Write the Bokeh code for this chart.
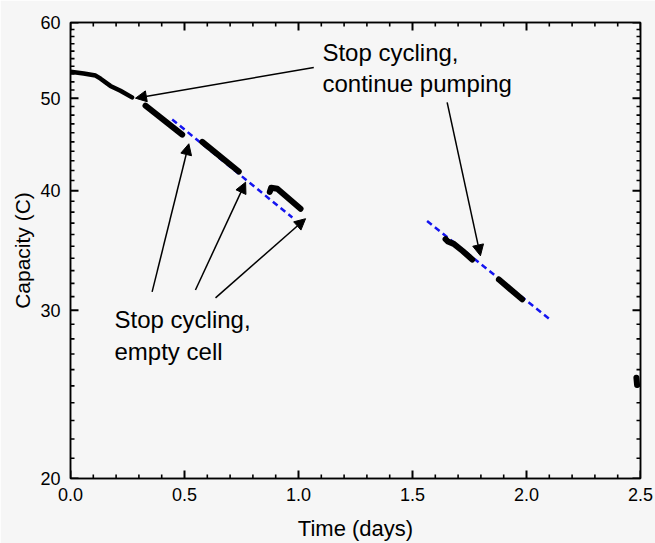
import numpy as np
from bokeh.plotting import figure
from bokeh.models import (FixedTicker, LinearAxis, LogAxis, Arrow, NormalHead,
                          ColumnDataSource, Range1d, CustomJSTickFormatter)
from bokeh.core.properties import value
from bokeh.embed import file_html
from bokeh.resources import INLINE

FONT = "Liberation Sans"
BG = "#f6f6f6"

# ---------------- data ----------------
x_start, x_end = 0.0, 2.5
y_start, y_end = 20, 60
x_ticks = [0.0, 0.5, 1.0, 1.5, 2.0, 2.5]
x_tick_labels = ["0.0", "0.5", "1.0", "1.5", "2.0", "2.5"]
x_minor = [0.1, 0.2, 0.3, 0.4, 0.6, 0.7, 0.8, 0.9, 1.1, 1.2, 1.3, 1.4,
           1.6, 1.7, 1.8, 1.9, 2.1, 2.2, 2.3, 2.4]
y_ticks = [20, 30, 40, 50, 60]
y_tick_labels = ["20", "30", "40", "50", "60"]
y_minor = [21, 22, 23, 24, 25, 26, 27, 28, 29,
           31, 32, 33, 34, 35, 36, 37, 38, 39,
           41, 42, 43, 44, 45, 46, 47, 48, 49,
           51, 52, 53, 54, 55, 56, 57, 58, 59]

# measured capacity (black segments)
seg_a_x = [0.0, 0.058, 0.110, 0.132, 0.175, 0.219, 0.270]
seg_a_y = [53.3, 53.07, 52.8, 52.4, 51.5, 50.9, 50.1]
seg_b_x = [0.329, 0.490]
seg_b_y = [49.1, 45.8]
seg_c_x = [0.578, 0.738]
seg_c_y = [45.0, 41.9]
seg_d_x = [0.874, 0.880, 0.907, 1.009]
seg_d_y = [39.9, 40.3, 40.2, 38.3]
seg_e_x = [1.645, 1.655, 1.681, 1.720, 1.762]
seg_e_y = [35.6, 35.4, 35.2, 34.6, 33.9]
seg_f_x = [1.879, 1.981]
seg_f_y = [32.3, 30.8]
seg_g_x = [2.482, 2.485]
seg_g_y = [25.5, 25.05]

# blue dashed fits
fit1_x = [0.446, 0.973]
fit1_y = [47.5, 37.5]
fit2_x = [1.564, 2.098]
fit2_y = [37.2, 29.4]

# arrows (start -> end, data coordinates)
arr_x0 = [1.067, 1.652, 0.358, 0.548, 0.636]
arr_y0 = [53.84, 49.5, 31.35, 31.5, 30.9]
arr_x1 = [0.285, 1.798, 0.519, 0.768, 1.031]
arr_y1 = [50.0, 34.2, 44.8, 40.84, 37.4]

# annotation texts
ann_x = [1.105, 0.193]
ann_y = [57.7, 30.27]
ann_text = ["Stop cycling,\ncontinue pumping", "Stop cycling,\nempty cell"]

# ---------------- layout ----------------
W, H = 655, 543
B_LEFT, B_RIGHT, B_TOP, B_BOTTOM = 70, 15, 22, 65
FRAME_W = W - B_LEFT - B_RIGHT
FRAME_H = H - B_TOP - B_BOTTOM
MAJOR_LEN, MINOR_LEN = 8, 4  # inward tick lengths in pixels

p = figure(width=W, height=H, x_range=Range1d(x_start, x_end),
           y_range=Range1d(y_start, y_end),
           y_axis_type="log", output_backend="svg", toolbar_location=None,
           min_border_left=B_LEFT, min_border_right=B_RIGHT, min_border_top=B_TOP,
           min_border_bottom=B_BOTTOM)
p.background_fill_color = BG
p.border_fill_color = BG
p.outline_line_color = "black"
p.outline_line_width = 1.5
p.xgrid.visible = False
p.ygrid.visible = False

xticker = FixedTicker(ticks=x_ticks, minor_ticks=x_minor)
yticker = FixedTicker(ticks=y_ticks, minor_ticks=y_minor)


def style_axis(ax):
    ax.axis_line_color = "black"
    ax.axis_line_width = 1.5
    ax.major_tick_in = 0
    ax.major_tick_out = 0
    ax.minor_tick_in = 0
    ax.minor_tick_out = 0
    ax.major_label_text_font = FONT
    ax.major_label_text_font_size = "18px"
    ax.major_label_text_color = "black"
    ax.axis_label_text_font = FONT
    ax.axis_label_text_font_style = "normal"
    ax.axis_label_text_color = "black"
    ax.axis_label_text_font_size = "21px"


xa = p.xaxis[0]
xa.ticker = xticker
xa.major_label_overrides = {t: l for t, l in zip(x_ticks, x_tick_labels)}
xa.axis_label = "Time (days)"
style_axis(xa)
xa.axis_label_text_font_size = "22px"
xa.axis_label_text_line_height = 1.0
xa.major_label_standoff = 9
xa.axis_label_standoff = 12

ya = p.yaxis[0]
ya.ticker = yticker
ya.major_label_overrides = {t: l for t, l in zip(y_ticks, y_tick_labels)}
ya.axis_label = "Capacity (C)"
style_axis(ya)
ya.major_label_standoff = 10
ya.axis_label_standoff = 3

empty = CustomJSTickFormatter(code="return ''")
top = LinearAxis(ticker=xticker, formatter=empty)
style_axis(top)
top.major_label_text_font_size = "1px"
top.major_label_standoff = 0
p.add_layout(top, "above")
right = LogAxis(ticker=yticker, formatter=empty)
style_axis(right)
right.major_label_text_font_size = "1px"
right.major_label_standoff = 0
p.add_layout(right, "right")


# inward tick marks on all four sides, drawn as one broken line per tick family
def tick_path(pos, a0, a1, vertical):
    xs, ys = [], []
    for t in pos:
        if vertical:
            xs += [t, t, np.nan]
            ys += [a0, a1, np.nan]
        else:
            xs += [a0, a1, np.nan]
            ys += [t, t, np.nan]
    return np.array(xs, dtype=float), np.array(ys, dtype=float)


dx_maj = MAJOR_LEN * (x_end - x_start) / FRAME_W
dx_min = MINOR_LEN * (x_end - x_start) / FRAME_W
fy_maj = (y_end / y_start) ** (MAJOR_LEN / FRAME_H)
fy_min = (y_end / y_start) ** (MINOR_LEN / FRAME_H)
tick_paths = []
for ticks, fy, lw in [(x_ticks, fy_maj, 2), (x_minor, fy_min, 1.6)]:
    tick_paths.append((tick_path(ticks, y_start, y_start * fy, True), lw))
    tick_paths.append((tick_path(ticks, y_end, y_end / fy, True), lw))
for ticks, dx, lw in [(y_ticks, dx_maj, 2), (y_minor, dx_min, 1.6)]:
    tick_paths.append((tick_path(ticks, x_start, x_start + dx, False), lw))
    tick_paths.append((tick_path(ticks, x_end, x_end - dx, False), lw))
for (tx, ty), lw in tick_paths:
    p.line(tx, ty, line_color="black", line_width=lw)

# blue dashed fit lines (drawn under the data)
for fx, fy in [(fit1_x, fit1_y), (fit2_x, fit2_y)]:
    p.line(fx, fy, line_color="#1414f0", line_width=2.5, line_dash="6 4")

# black data segments
p.line(seg_a_x, seg_a_y, line_color="black", line_width=4.5, line_cap="round", line_join="round")
for sx, sy in [(seg_b_x, seg_b_y), (seg_c_x, seg_c_y), (seg_d_x, seg_d_y),
               (seg_e_x, seg_e_y), (seg_f_x, seg_f_y), (seg_g_x, seg_g_y)]:
    p.line(sx, sy, line_color="black", line_width=6, line_cap="round", line_join="round")

# arrows
src = ColumnDataSource(dict(x0=arr_x0, y0=arr_y0, x1=arr_x1, y1=arr_y1))
p.add_layout(Arrow(x_start="x0", y_start="y0", x_end="x1", y_end="y1", source=src,
                   line_color="black", line_width=1.5,
                   end=NormalHead(size=11, fill_color="black", line_color="black", line_width=1)))

# annotation texts
p.text(x=ann_x, y=ann_y, text=ann_text, text_font=value(FONT), text_font_size="24px",
       text_baseline="top", text_align="left", text_color="black", text_line_height=1.15)

open("out.html", "w").write(file_html(p, INLINE))
